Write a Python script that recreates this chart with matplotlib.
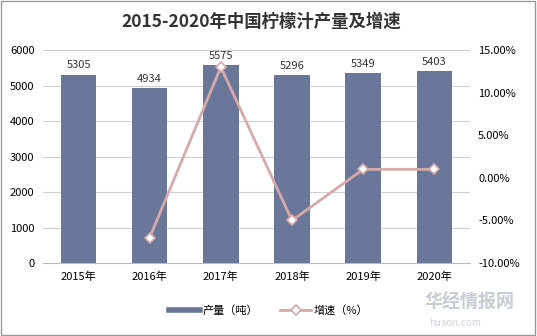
import matplotlib.pyplot as plt
from matplotlib.patches import Rectangle
from matplotlib.lines import Line2D

plt.rcParams['font.family'] = ['Noto Sans CJK SC', 'DejaVu Sans']

years = ["2015年", "2016年", "2017年", "2018年", "2019年", "2020年"]
output = [5305, 4934, 5575, 5296, 5349, 5403]
growth = [None, -7.0, 13.0, -5.0, 1.0, 1.0]

bar_color = "#6a7799"
line_color = "#d6aaaa"

fig = plt.figure(figsize=(5.37, 3.36), dpi=100)
ax = fig.add_axes([0.080, 0.217, 0.795, 0.634])

x = list(range(len(years)))
ax.bar(x, output, width=0.5, color=bar_color, zorder=2)
for xi, v in zip(x, output):
    ax.text(xi, v + 120, str(v), ha="center", va="bottom", fontsize=8, color="#333333")

ax.set_ylim(0, 6000)
ax.set_yticks(range(0, 6001, 1000))
ax.set_xlim(-0.5, 5.5)
ax.set_xticks(x)
ax.set_xticklabels(years, fontsize=8)
ax.tick_params(axis="y", length=0, labelsize=8, pad=6)
ax.tick_params(axis="x", length=0, pad=6)
ax.yaxis.grid(True, color="#d0d0d0", linewidth=0.8, zorder=0)
ax.set_axisbelow(True)
for s in ["left", "right", "top"]:
    ax.spines[s].set_visible(False)
ax.spines["bottom"].set_color("#bbbbbb")

ax2 = ax.twinx()
gx = [xi for xi, g in zip(x, growth) if g is not None]
gy = [g for g in growth if g is not None]
ax2.plot(gx, gy, color=line_color, linewidth=2, marker="D", markersize=5,
         markerfacecolor="white", markeredgecolor=line_color, markeredgewidth=1.2,
         zorder=3)
ax2.set_ylim(-10, 15)
ax2.set_yticks(range(-10, 16, 5))
ax2.set_yticklabels([f"{v:.2f}%" for v in range(-10, 16, 5)], fontsize=8)
ax2.tick_params(axis="y", length=0, pad=6)
for s in ["left", "right", "top", "bottom"]:
    ax2.spines[s].set_visible(False)

fig.text(0.487, 0.935, "2015-2020年中国柠檬汁产量及增速", ha="center", va="center",
         fontsize=12.5, fontweight="bold", color="#333333")

handles = [
    Line2D([], [], color=bar_color, linewidth=4),
    Line2D([], [], color=line_color, linewidth=2, marker="D", markersize=5,
           markerfacecolor="white", markeredgecolor=line_color, markeredgewidth=1.2),
]
fig.legend(handles, ["产量（吨）", "增速（%）"], loc="center", bbox_to_anchor=(0.5, 0.075),
           ncol=2, frameon=False, fontsize=8, handlelength=2.8, handletextpad=0.2,
           columnspacing=2.0)

# watermark
fig.text(0.79, 0.1, "华经情报网", fontsize=13, color="#c8ccd4", fontweight="bold", va="center")
fig.text(0.80, 0.04, "huaon.com", fontsize=7, color="#d0d4da", va="center")

fig.add_artist(Rectangle((0.002, 0.003), 0.995, 0.994, transform=fig.transFigure,
                         fill=False, edgecolor="#999999", linewidth=1))

fig.savefig("out.png", dpi=100)
